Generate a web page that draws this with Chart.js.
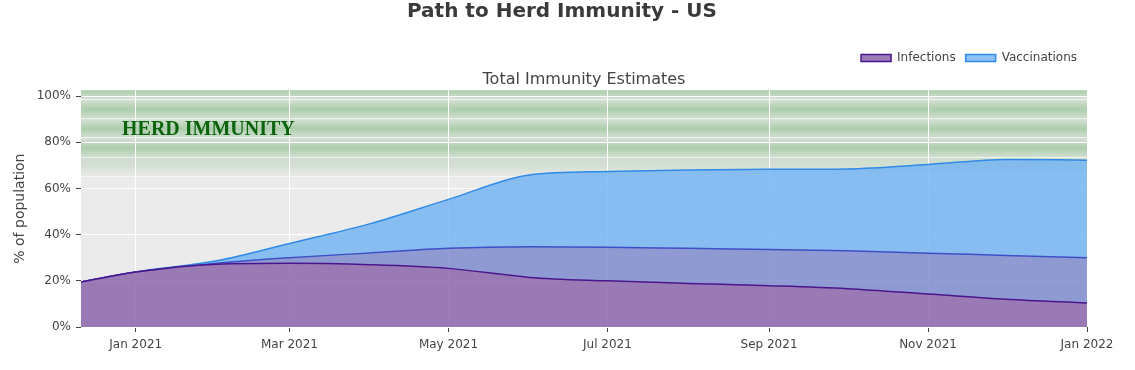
<!DOCTYPE html>
<html>
<head>
<meta charset="utf-8">
<script src="https://cdn.jsdelivr.net/npm/chart.js@4.4.0/dist/chart.umd.min.js"></script>
<style>
  html, body { margin: 0; padding: 0; background: #fff; }
</style>
</head>
<body>
<canvas id="immunityChart" width="1135" height="370"></canvas>
<script>
// sample dates and % of population
const dates = ["2020-12-11", "2021-01-01", "2021-02-01", "2021-03-01", "2021-04-01", "2021-05-01", "2021-06-01",
               "2021-07-01", "2021-08-01", "2021-09-01", "2021-10-01", "2021-11-01", "2021-12-01", "2022-01-01"];
const infections    = [19.5, 23.8, 27.2, 27.6, 27.0, 25.4, 21.5, 20.0, 18.9, 17.9, 16.6, 14.3, 12.0, 10.4];
const infectionBand = [19.5, 23.8, 27.6, 30.0, 32.1, 34.1, 34.8, 34.6, 34.1, 33.6, 33.0, 32.0, 31.0, 30.0];
const vaccinations  = [19.5, 23.8, 28.7, 36.2, 44.8, 55.3, 65.9, 67.4, 68.0, 68.3, 68.5, 70.4, 72.6, 72.3];

const xTickDates  = ["2021-01-01", "2021-03-01", "2021-05-01", "2021-07-01", "2021-09-01", "2021-11-01", "2022-01-01"];
const xTickLabels = ["Jan 2021", "Mar 2021", "May 2021", "Jul 2021", "Sep 2021", "Nov 2021", "Jan 2022"];
const yTicks = [0, 20, 40, 60, 80, 100];
const herdLevel = 65;

const FONT = "'DejaVu Sans', Verdana, sans-serif";
Chart.defaults.font.family = FONT;
Chart.defaults.color = '#444';

const toDay = s => Date.parse(s) / 86400000;
const toPoints = vals => vals.map((v, i) => ({ x: toDay(dates[i]), y: v }));

const plotBackground = {
  id: 'plotBackground',
  beforeDraw(chart) {
    const { ctx, chartArea: a, scales: { y } } = chart;
    const w = a.right - a.left;
    ctx.save();
    ctx.fillStyle = '#ebebeb';
    ctx.fillRect(a.left, a.top, w, a.bottom - a.top);

    // striped green "herd immunity" zone
    const bandBottom = y.getPixelForValue(herdLevel);
    const period = 19.3;
    ctx.beginPath();
    ctx.rect(a.left, a.top, w, bandBottom - a.top);
    ctx.clip();
    for (let k = 0, y0 = bandBottom; y0 > a.top; k++, y0 -= period) {
      const g = ctx.createLinearGradient(0, y0 - period, 0, y0);
      if (k === 0) {
        g.addColorStop(0, 'rgba(150,195,150,0.35)');
        g.addColorStop(0.4, 'rgba(150,195,150,0.3)');
        g.addColorStop(1, 'rgba(150,195,150,0.02)');
      } else {
        g.addColorStop(0, 'rgba(150,195,150,0.25)');
        g.addColorStop(0.5, 'rgba(150,195,150,0.75)');
        g.addColorStop(1, 'rgba(150,195,150,0.25)');
      }
      ctx.fillStyle = g;
      ctx.fillRect(a.left, y0 - period, w, period);
      ctx.fillStyle = 'rgba(255,255,255,0.6)';
      ctx.fillRect(a.left, Math.round(y0) - 1, w, 1);
    }
    ctx.restore();
  },
  afterDraw(chart) {
    const { ctx, chartArea: a, scales: { y } } = chart;
    ctx.save();
    ctx.textBaseline = 'middle';
    ctx.fillStyle = '#3a3a3a';
    ctx.textAlign = 'center';
    ctx.font = "bold 20px " + FONT;
    ctx.fillText('Path to Herd Immunity - US', 562, 12);

    ctx.textAlign = 'left';
    ctx.fillStyle = '#0b640b';
    ctx.font = "bold 20px 'Liberation Serif', 'Times New Roman', serif";
    ctx.fillText('HERD IMMUNITY', a.left + 41, y.getPixelForValue(85.3));
    ctx.restore();
  }
};

const ctx = document.getElementById('immunityChart');

new Chart(ctx, {
  type: 'line',
  data: {
    datasets: [
      {
        label: 'Infections',
        data: toPoints(infections),
        borderColor: '#4a168c',
        backgroundColor: 'rgba(134,94,167,0.8)',
        borderWidth: 1.5,
        fill: 'origin'
      },
      {
        label: 'band',
        data: toPoints(infectionBand),
        borderColor: '#3f4fc6',
        backgroundColor: 'rgba(120,134,205,0.8)',
        borderWidth: 1.5,
        fill: '-1'
      },
      {
        label: 'Vaccinations',
        data: toPoints(vaccinations),
        borderColor: '#2f8be6',
        backgroundColor: 'rgba(111,178,244,0.8)',
        borderWidth: 1.5,
        fill: '-1'
      }
    ]
  },
  options: {
    responsive: false,
    animation: false,
    cubicInterpolationMode: 'monotone',
    elements: { point: { radius: 0 } },
    layout: { padding: { top: 42, right: 48, left: 0, bottom: 0 } },
    plugins: {
      legend: {
        position: 'top',
        align: 'end',
        maxHeight: 26,
        labels: {
          filter: item => item.text !== 'band',
          boxWidth: 30,
          boxHeight: 7,
          padding: 10,
          font: { size: 12 },
          color: '#444'
        }
      },
      subtitle: {
        display: true,
        text: 'Total Immunity Estimates',
        fullSize: false,
        weight: 500,
        color: '#444',
        font: { size: 16, weight: 'normal' },
        padding: { top: 2, bottom: 1 }
      },
      tooltip: { enabled: false }
    },
    scales: {
      x: {
        type: 'linear',
        min: toDay(dates[0]),
        max: toDay(dates[dates.length - 1]),
        afterBuildTicks: s => { s.ticks = xTickDates.map(d => ({ value: toDay(d) })); },
        afterFit: s => { s.height = 43; },
        border: { display: false },
        grid: { color: '#fff', lineWidth: 1, tickLength: 5, tickColor: '#444' },
        ticks: {
          callback: (v, i) => xTickLabels[i],
          padding: 6,
          maxRotation: 0,
          autoSkip: false,
          font: { size: 12 }
        }
      },
      y: {
        min: 0,
        max: 102.6,
        afterBuildTicks: s => { s.ticks = yTicks.map(v => ({ value: v })); },
        afterFit: s => { s.width = 81; },
        border: { display: false },
        grid: { color: '#fff', lineWidth: 1, tickLength: 5, tickColor: '#444' },
        title: {
          display: true,
          text: '% of population',
          font: { size: 14 },
          color: '#444',
          padding: { top: 12, bottom: 0 }
        },
        ticks: {
          callback: v => v + '%',
          padding: 5,
          font: { size: 12 }
        }
      }
    }
  },
  plugins: [plotBackground]
});
</script>
</body>
</html>
